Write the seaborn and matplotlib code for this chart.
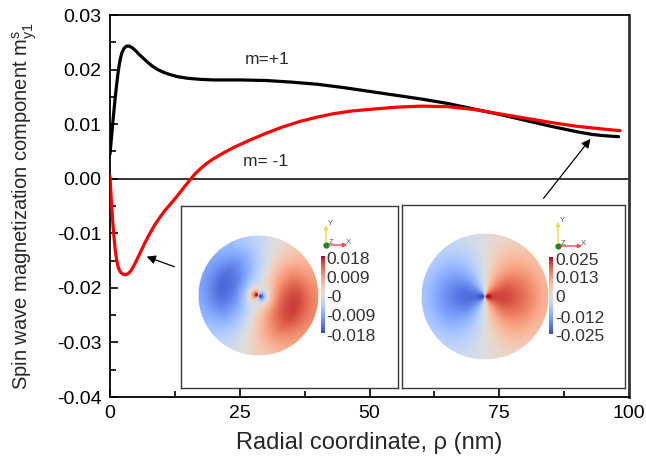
import numpy as np
import matplotlib
matplotlib.use("Agg")
import matplotlib.pyplot as plt
import seaborn as sns

# ---- data ----
rho_plus = [0, 0.25, 0.5, 0.75, 1.0, 1.25, 1.5, 1.75, 2.0, 2.3, 2.7, 3.2, 3.7, 4.3, 5.0, 5.7,
            6.5, 7.3, 8.2, 9.2, 10.3, 11.5, 13, 15, 17.5, 20, 25, 30, 35, 40, 45, 50, 55,
            60, 65, 70, 75, 80, 85, 90, 93, 95, 98]
my_plus = [0.0045, 0.0072, 0.0098, 0.0124, 0.0148, 0.0170, 0.0190, 0.0207, 0.0220, 0.0231,
           0.0239, 0.0243, 0.0243, 0.0240, 0.0234, 0.0227, 0.0220, 0.0213, 0.0206, 0.0200,
           0.0195, 0.0191, 0.0187, 0.0184, 0.0182, 0.0181, 0.0181, 0.0180, 0.0177, 0.0173,
           0.0167, 0.0160, 0.0153, 0.0146, 0.0138, 0.0128, 0.0118, 0.0107, 0.0096, 0.0086,
           0.0081, 0.0079, 0.0077]

rho_minus = [0, 0.25, 0.5, 0.75, 1.0, 1.3, 1.6, 2.0, 2.5, 3.0, 3.5, 4.0, 4.5, 5.0, 5.8, 6.7,
             7.7, 8.6, 9.6, 10.6, 11.6, 12.5, 13.5, 14.5, 15.5, 16.5, 17.5, 18.5, 20, 22,
             24, 27, 30, 33, 36.6, 40, 43, 46.5, 50, 55, 60, 65, 70, 75, 80, 85, 90, 95, 98.3]
my_minus = [0.0005, -0.0040, -0.0075, -0.0105, -0.0130, -0.0150, -0.0163, -0.0171, -0.0175,
            -0.0176, -0.0174, -0.0169, -0.0161, -0.0152, -0.0136, -0.0118, -0.0100, -0.0085,
            -0.0071, -0.0058, -0.0047, -0.0037, -0.0025, -0.0013, -0.0001, 0.0010, 0.0019,
            0.0027, 0.0037, 0.0048, 0.0058, 0.0071, 0.0083, 0.0094, 0.0105, 0.0113, 0.0119,
            0.0124, 0.0127, 0.0131, 0.0133, 0.0132, 0.0127, 0.0119, 0.0111, 0.0103, 0.0096,
            0.0091, 0.0088]

xticks = [0, 25, 50, 75, 100]
yticks = [-0.04, -0.03, -0.02, -0.01, 0.00, 0.01, 0.02, 0.03]
cb_left_labels = ["0.018", "0.009", "-0", "-0.009", "-0.018"]
cb_right_labels = ["0.025", "0.013", "0", "-0.012", "-0.025"]
cb_left_max = 0.018
cb_right_max = 0.025

# ---- style ----
sns.set_style("ticks")
plt.rcParams["font.family"] = ["Liberation Sans", "DejaVu Sans"]
plt.rcParams["mathtext.fontset"] = "custom"
plt.rcParams["mathtext.rm"] = "Liberation Sans"
plt.rcParams["mathtext.it"] = "Liberation Sans"

W, H = 646, 467
fig = plt.figure(figsize=(W / 100, H / 100), dpi=100)
L, R, T, B = 110, 629, 15, 397
ax = fig.add_axes([L / W, 1 - B / H, (R - L) / W, (B - T) / H])

sns.lineplot(x=rho_plus, y=my_plus, color="black", lw=2.3, ax=ax, zorder=3)
sns.lineplot(x=rho_minus, y=my_minus, color="#ff0000", lw=2.3, ax=ax, zorder=3)
ax.axhline(0, color="black", lw=1.1, zorder=2)

ax.set_xlim(0, 100)
ax.set_ylim(-0.04, 0.03)
ax.set_xticks(xticks)
ax.set_yticks(yticks)
ax.set_yticklabels([f"{v:.2f}" for v in yticks])
ax.set_xticks([12.5, 37.5, 62.5, 87.5], minor=True)
ax.set_yticks(np.arange(-0.035, 0.03, 0.01), minor=True)
ax.tick_params(which="both", direction="in", top=False, right=False, labelsize=14,
               width=1.2, colors="black")
ax.tick_params(which="major", length=5.5, pad=6)
ax.tick_params(which="minor", length=4)
for s in ax.spines.values():
    s.set_linewidth(1.3)
    s.set_color("black")
ax.spines["right"].set_color("#333333")
ax.spines["right"].set_linewidth(2.0)

ax.set_xlabel(r"Radial coordinate, ρ (nm)", fontsize=17, labelpad=7)
ax.set_ylabel(r"Spin wave magnetization component m$\mathrm{^{s}_{y1}}$", fontsize=14.5,
              labelpad=13)

ax.text(30.2, 0.0218, "m=+1", fontsize=12.5, ha="center", va="center")
ax.text(30.0, 0.0031, "m= -1", fontsize=12.5, ha="center", va="center")

ax.annotate("", xy=(6.55, -0.0141), xytext=(12.9, -0.0163),
            arrowprops=dict(arrowstyle="-|>", color="black", lw=0.9, mutation_scale=13))
ax.annotate("", xy=(92.9, 0.0077), xytext=(83.2, -0.0040),
            arrowprops=dict(arrowstyle="-|>", color="black", lw=0.9, mutation_scale=13))


def disk_field(rho, vals, rotate):
    n = 241
    g = np.linspace(-1, 1, n)
    xx, yy = np.meshgrid(g, -g)  # row 0 = top
    r = np.sqrt(xx ** 2 + yy ** 2) * 100
    phi = np.arctan2(yy, xx)
    f = np.interp(r, rho, vals)
    z = f * np.cos(phi - rotate)
    z[r > 100] = np.nan
    return z


def inset(box, center, rad, z, vmax, cb_box, labels, label_ys, label_x, triad):
    x0, y0, x1, y1 = box
    a = fig.add_axes([x0 / W, 1 - y1 / H, (x1 - x0) / W, (y1 - y0) / H])
    a.set_xlim(x0, x1)
    a.set_ylim(y1, y0)
    a.set_xticks([])
    a.set_yticks([])
    a.set_facecolor("white")
    for s in a.spines.values():
        s.set_color("#3a3a3a")
        s.set_linewidth(1.0)
    cmap = plt.get_cmap("coolwarm").copy()
    cmap.set_bad((1, 1, 1, 0))
    cx, cy = center
    a.imshow(z, cmap=cmap, vmin=-0.85 * vmax, vmax=0.85 * vmax, origin="upper",
             extent=(cx - rad, cx + rad, cy + rad, cy - rad), aspect="auto",
             interpolation="bilinear")
    bx0, by0, bx1, by1 = cb_box
    grad = np.linspace(1, -1, 100).reshape(-1, 1)
    a.imshow(grad, cmap="coolwarm", vmin=-1, vmax=1, origin="upper",
             extent=(bx0, bx1, by1, by0), aspect="auto")
    for lab, ly in zip(labels, label_ys):
        a.text(label_x, ly, lab, fontsize=12.5, color="#333333", ha="left", va="center")
    ox, oy, ytop, xright = triad
    a.annotate("", xy=(ox, ytop), xytext=(ox, oy),
               arrowprops=dict(arrowstyle="-|>", color="#e8e04a", lw=1.0, mutation_scale=6))
    a.annotate("", xy=(xright, oy), xytext=(ox, oy),
               arrowprops=dict(arrowstyle="-|>", color="#e05050", lw=1.0, mutation_scale=6))
    a.plot([ox], [oy], "o", color="#1a8a1a", ms=3.5)
    a.text(ox + 2, ytop + 1, "Y", fontsize=5.5, color="#555555", ha="left", va="center")
    a.text(ox + 3, oy - 3, "Z", fontsize=5.5, color="#555555", ha="left", va="center")
    a.text(xright - 4, oy - 3, "X", fontsize=5.5, color="#555555", ha="left", va="center")
    return a


z_left = disk_field(rho_minus, my_minus, -0.3)
z_right = disk_field(rho_plus, my_plus, 0.0)

inset((181, 206, 398, 388), (258.3, 295.5), 60.5, z_left, cb_left_max,
      (320.7, 256.7, 324.0, 333.3), cb_left_labels, [259, 278, 297, 316.5, 336], 326.0,
      (326, 245, 222, 350))
inset((402, 205, 625, 388), (484.7, 296.3), 63.5, z_right, cb_right_max,
      (549.0, 257.3, 552.3, 334.0), cb_right_labels, [260.5, 278.5, 297, 318, 336], 555.5,
      (558, 246, 219, 585))

fig.savefig("out.png", dpi=100)
